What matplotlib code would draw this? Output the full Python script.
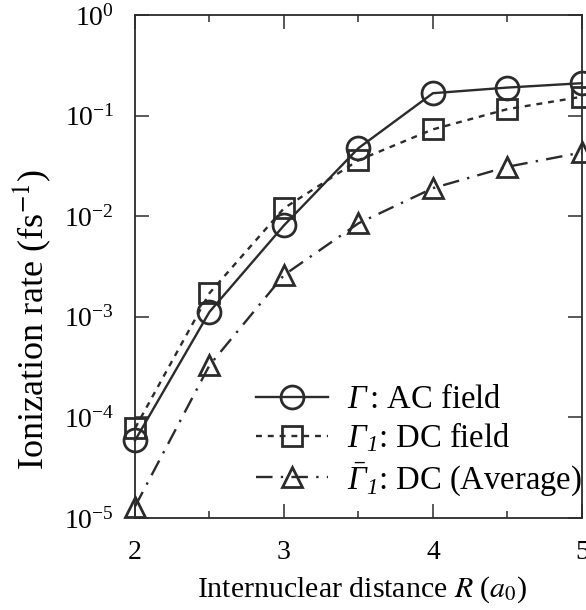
import numpy as np
import matplotlib.pyplot as plt
from matplotlib.ticker import LogLocator, NullLocator, MultipleLocator
from matplotlib.font_manager import FontProperties

plt.rcParams['font.family'] = ['Liberation Serif', 'DejaVu Serif']
plt.rcParams['mathtext.fontset'] = 'stix'
# italic greek for the legend symbols
plt.rcParams['mathtext.rm'] = 'Liberation Serif:italic'
plt.rcParams['mathtext.it'] = 'Liberation Serif:italic'

# internuclear distance R (a0)
R = [2.0, 2.5, 3.0, 3.5, 4.0, 4.5, 5.0]
# ionization rates (fs^-1)
rate_ac = [5.9e-5, 1.12e-3, 8.1e-3, 0.0475, 0.167, 0.19, 0.21]
rate_dc = [7.8e-5, 1.72e-3, 0.012, 0.036, 0.073, 0.116, 0.154]
rate_dc_avg = [1.3e-5, 3.3e-4, 2.6e-3, 8.5e-3, 0.019, 0.031, 0.043]

labels = [r'$\Gamma\,$: AC field',
          r'$\Gamma_{1}$: DC field',
          r'$\bar{\Gamma}_{1}$: DC (Average)']

col = '#2b2b2b'
fig = plt.figure(figsize=(5.86, 6.10), dpi=100)
ax = fig.add_axes([0.2304, 0.1508, 0.7626, 0.8246])

ax.plot(R, rate_ac, '-', marker='o', ms=16.5, color=col, lw=1.7, mfc='none', mew=2,
        clip_on=False, label=labels[0])
ax.plot(R, rate_dc, linestyle=(0, (2.5, 2.5)), marker='s', ms=14, color=col, lw=1.7,
        mfc='none', mew=2, clip_on=False, label=labels[1])
ax.plot(R, rate_dc_avg, linestyle=(0, (7, 3.5, 1, 3.5)), marker='^', ms=14, color=col,
        lw=1.7, mfc='none', mew=2, clip_on=False, label=labels[2])

ax.set_yscale('log')
ax.set_xlim(2, 5)
ax.set_ylim(1e-5, 1)
ax.xaxis.set_major_locator(MultipleLocator(1))
ax.xaxis.set_minor_locator(MultipleLocator(0.5))
ax.yaxis.set_major_locator(LogLocator(base=10, numticks=10))
ax.yaxis.set_minor_locator(NullLocator())

ax.tick_params(which='both', direction='in', top=True, right=True, color=col,
               labelsize=20)
ax.tick_params(which='major', length=10, width=1.1)
ax.tick_params(which='minor', length=5, width=1.1)
ax.tick_params(axis='x', pad=16)
ax.tick_params(axis='y', pad=15)
for s in ax.spines.values():
    s.set_linewidth(1.3)
    s.set_color(col)

ax.set_xlabel(r'Internuclear distance $R$ ($a_0$)', fontsize=21.5)
ax.xaxis.set_label_coords(0.508, -0.143)
ax.xaxis.label.set_verticalalignment('center')
ax.set_ylabel(r'Ionization rate (fs$^{-1}$)', fontsize=26)
ax.yaxis.set_label_coords(-0.232, 0.394)
ax.yaxis.label.set_verticalalignment('center')

leg_font = FontProperties(family='Liberation Serif', size=23.5, math_fontfamily='custom')
ax.legend(loc='lower right', bbox_to_anchor=(1.03, 0.014), frameon=False, prop=leg_font,
          handlelength=2.2, handletextpad=0.6, labelspacing=0.17, numpoints=1,
          borderaxespad=0.0)

fig.savefig('out.png', dpi=100)
